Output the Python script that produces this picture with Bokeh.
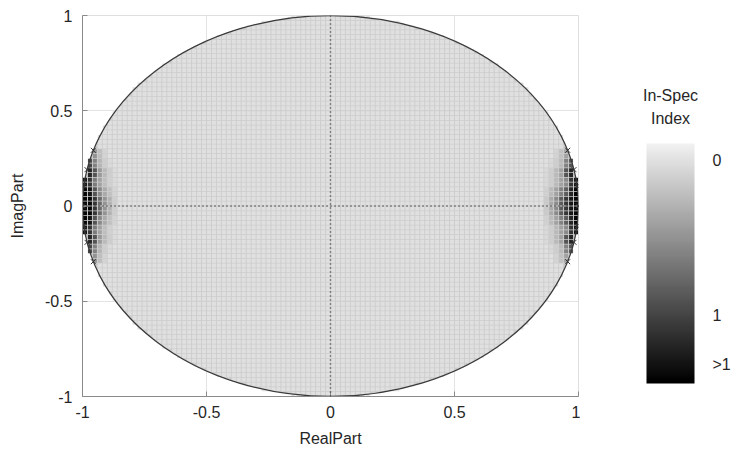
import numpy as np
from bokeh.plotting import figure
from bokeh.layouts import row
from bokeh.models import (ColumnDataSource, LinearColorMapper, ColorBar, FixedTicker,
                          Span, Label, Range1d, AllLabels)
from bokeh.embed import file_html
from bokeh.resources import INLINE

# ---- data -------------------------------------------------------------
axis_ticks = [-1, -0.5, 0, 0.5, 1]
axis_tick_labels = ["-1", "-0.5", "0", "0.5", "1"]

# colour scale of the in-spec index
index_low, index_high = -0.11, 1.44
cbar_ticks = [0, 1, 1.32]
cbar_tick_labels = ["0", "1", ">1"]

# sampling lattice spacing in the unit disk
step_real, step_imag = 0.02, 0.025

# index near the real-axis edges: rows = |imag| band, cols = depth inside circle
band_imag = [0.0, 0.05, 0.10, 0.15, 0.20, 0.25, 0.30]
band_depth = [0.0, 0.02, 0.04, 0.06, 0.08, 0.10, 0.12, 0.14]
index_right = [
    [1.40, 1.30, 1.10, 0.85, 0.55, 0.35, 0.15],
    [1.40, 1.20, 0.85, 0.60, 0.40, 0.25, 0.10],
    [1.30, 1.10, 0.55, 0.40, 0.25, 0.12, 0.05],
    [1.20, 0.90, 0.40, 0.25, 0.12, 0.05, 0.00],
    [0.90, 0.60, 0.25, 0.12, 0.05, 0.00, 0.00],
    [0.40, 0.20, 0.08, 0.00, 0.00, 0.00, 0.00],
]
index_left = [
    [1.40, 1.40, 1.10, 0.75, 0.50, 0.30, 0.12],
    [1.40, 1.30, 0.90, 0.55, 0.35, 0.20, 0.08],
    [1.30, 1.10, 0.65, 0.40, 0.22, 0.10, 0.04],
    [1.20, 0.90, 0.45, 0.25, 0.12, 0.04, 0.00],
    [1.00, 0.60, 0.28, 0.12, 0.04, 0.00, 0.00],
    [0.50, 0.22, 0.08, 0.00, 0.00, 0.00, 0.00],
]

# pole angles (degrees) on the unit circle, mirrored about both axes
pole_angles_deg = [0, 6, 11, 17]

# ---- build the lattice -------------------------------------------------
gx, gy = np.meshgrid(np.arange(-1 + step_real / 2, 1, step_real),
                     np.arange(-1 + step_imag / 2, 1, step_imag))
gx, gy = gx.ravel(), gy.ravel()
inside = gx ** 2 + gy ** 2 <= 1.0
gx, gy = gx[inside], gy[inside]

idx = np.zeros_like(gx)
depth = np.sqrt(1 - gy ** 2) - np.abs(gx)
ai = np.abs(gy)
for table, side in ((np.array(index_right), gx > 0), (np.array(index_left), gx < 0)):
    sel = side & (ai < band_imag[-1]) & (depth < band_depth[-1])
    r = np.searchsorted(band_imag, ai[sel], side="right") - 1
    c = np.searchsorted(band_depth, depth[sel], side="right") - 1
    idx[sel] = table[r, c]

cells = ColumnDataSource(dict(x=gx, y=gy, idx=idx))

palette = ["#%02x%02x%02x" % (v, v, v) for v in np.linspace(242, 0, 256).astype(int)]
mapper = LinearColorMapper(palette=palette, low=index_low, high=index_high)
# the bar runs top-down (0 at the top): same range, palette flipped, ticks mirrored
bar_mapper = LinearColorMapper(palette=palette[::-1], low=index_low, high=index_high)
bar_ticks = [round(index_low + index_high - t, 4) for t in cbar_ticks]

FONT = "Liberation Sans"
TXT = "#262626"

# ---- main z-plane figure -----------------------------------------------
p = figure(width=580, height=457, output_backend="svg", toolbar_location=None,
           x_range=Range1d(-1, 1), y_range=Range1d(-1, 1),
           min_border_left=82, min_border_right=2, min_border_top=15, min_border_bottom=61,
           x_axis_label="RealPart", y_axis_label="ImagPart")
p.background_fill_color = "white"
p.outline_line_color = "#dedede"

for g in (p.xgrid, p.ygrid):
    g.ticker = FixedTicker(ticks=[-0.5, 0.5])
    g.grid_line_color = "#e3e3e3"

for ax in (p.xaxis, p.yaxis):
    ax.ticker = FixedTicker(ticks=axis_ticks)
    ax.major_label_overrides = {t: s for t, s in zip(axis_ticks, axis_tick_labels)}
    ax.major_tick_in = 5
    ax.major_tick_out = 0
    ax.minor_tick_line_color = None
    ax.axis_line_color = "#8a8a8a"
    ax.major_tick_line_color = "#8a8a8a"
    ax.major_label_text_font = FONT
    ax.major_label_text_font_size = "16px"
    ax.major_label_text_color = TXT
    ax.axis_label_text_font = FONT
    ax.axis_label_text_font_size = "16px"
    ax.axis_label_text_font_style = "normal"
    ax.axis_label_text_color = TXT
p.yaxis.major_label_standoff = 10
p.yaxis.axis_label_standoff = 16
p.xaxis.major_label_standoff = 9
p.xaxis.axis_label_standoff = 9

# unit disk backdrop, index cells, outline
p.ellipse(x=0, y=0, width=2, height=2, fill_color="#cdcdcd", line_color=None)
p.scatter("x", "y", source=cells, marker="square", size=4,
          fill_color={"field": "idx", "transform": mapper}, line_color=None)
p.ellipse(x=0, y=0, width=2, height=2, fill_color=None, line_color="#3a3a3a", line_width=1.2)

# real / imaginary axes as dotted lines
p.add_layout(Span(location=0, dimension="width", line_color="#303030",
                  line_dash="1 3", line_width=1.5))
p.add_layout(Span(location=0, dimension="height", line_color="#303030",
                  line_dash="1 3", line_width=1.5))

# poles
ang = np.deg2rad(np.array(pole_angles_deg, dtype=float))
px = np.concatenate([np.cos(ang), np.cos(ang), -np.cos(ang), -np.cos(ang)])
py = np.concatenate([np.sin(ang), -np.sin(ang), np.sin(ang), -np.sin(ang)])
p.scatter(px, py, marker="x", size=7, line_color="#333333", line_width=1)

# ---- colour bar panel -----------------------------------------------------
cb = figure(width=154, height=457, output_backend="svg", toolbar_location=None,
            x_range=Range1d(0, 1), y_range=Range1d(0, 1),
            min_border=0, x_axis_location=None, y_axis_location=None)
cb.outline_line_color = None
cb.xgrid.visible = False
cb.ygrid.visible = False

bar = ColorBar(color_mapper=bar_mapper, location=(66, 13), width=48, height=240,
               padding=0, margin=0, bar_line_color=None,
               ticker=FixedTicker(ticks=bar_ticks),
               major_label_overrides={t: s for t, s in zip(bar_ticks, cbar_tick_labels)},
               major_label_policy=AllLabels(),
               major_tick_line_color=None, minor_tick_line_color=None,
               label_standoff=18, major_label_text_font=FONT,
               major_label_text_font_size="16px", major_label_text_color=TXT)
cb.add_layout(bar, "center")

for text, ypos in (("In-Spec", 301), ("Index", 278)):
    cb.add_layout(Label(x=90, y=ypos, x_units="screen", y_units="screen", text=text,
                        text_align="center", text_baseline="middle", text_font=FONT,
                        text_font_size="16px", text_color=TXT))

layout = row(p, cb, spacing=0)
open("out.html", "w").write(file_html(layout, INLINE))
